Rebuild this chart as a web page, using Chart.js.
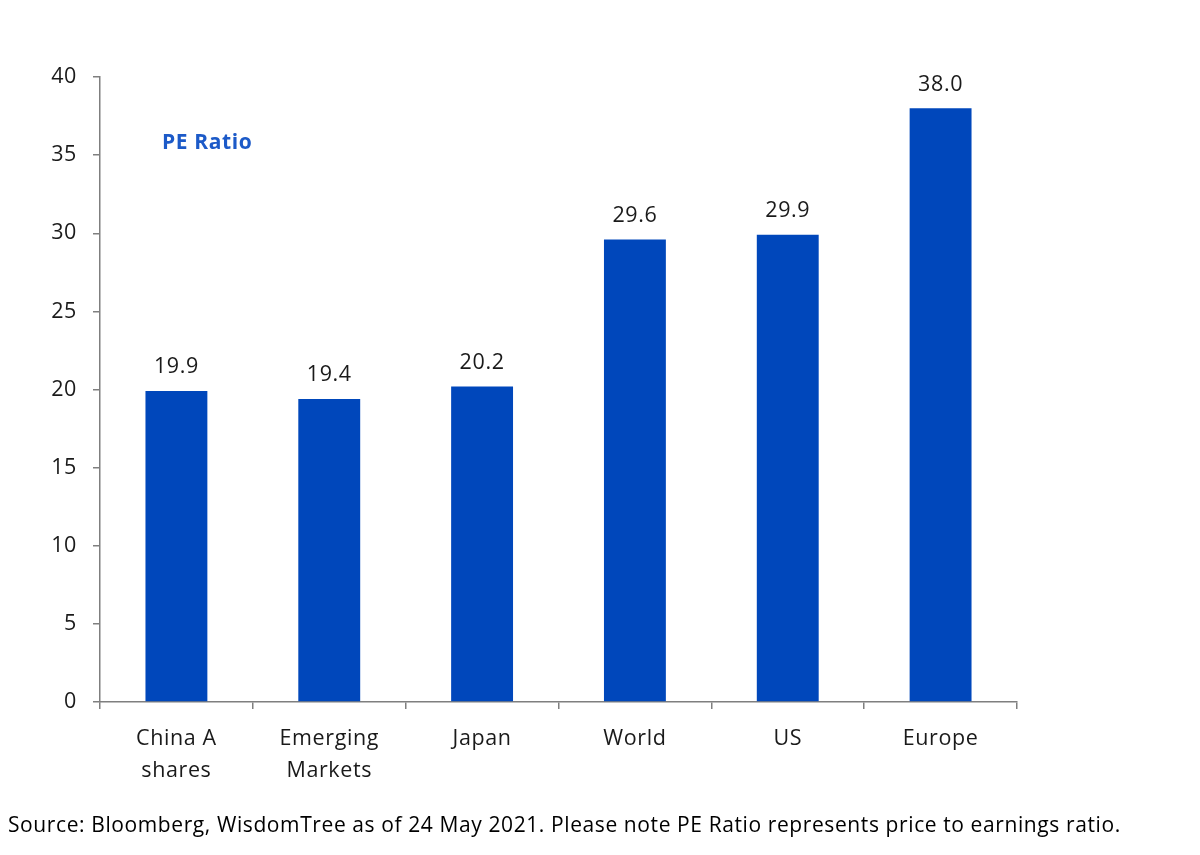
<!DOCTYPE html>
<html>
<head>
<meta charset="utf-8">
<script src="https://cdn.jsdelivr.net/npm/chart.js@4"></script>
<style>
    body { margin: 0; background: #fff; }
    #wrap { width: 1200px; height: 855px; }
</style>
</head>
<body>
<div id="wrap"><canvas id="peChart"></canvas></div>
<script>
// Data
const categories = [["China A", "shares"], ["Emerging", "Markets"], "Japan", "World", "US", "Europe"];
const peValues = [19.9, 19.4, 20.2, 29.6, 29.9, 38.0];
const yTicks = [0, 5, 10, 15, 20, 25, 30, 35, 40];

const barColor = "#0047BB";
const textColor = "#1a1a1a";
const axisColor = "#7f7f7f";
const fontFamily = "'Open Sans', sans-serif";

// Slightly wider lettering, closer to the original's font
const spacingPlugin = {
    id: "spacing",
    beforeDraw(chart) {
        chart.ctx.letterSpacing = "0.6px";
    }
};

// Draws value labels, the "PE Ratio" tag and the source note
const labelsPlugin = {
    id: "labels",
    afterDatasetsDraw(chart) {
        const ctx = chart.ctx;
        const meta = chart.getDatasetMeta(0);
        ctx.save();
        ctx.letterSpacing = "0.6px";
        ctx.font = "21.5px " + fontFamily;
        ctx.fillStyle = textColor;
        ctx.textAlign = "center";
        ctx.textBaseline = "bottom";
        meta.data.forEach((bar, i) => {
            ctx.fillText(peValues[i].toFixed(1), bar.x, bar.y - 13);
        });

        ctx.font = "bold 21px " + fontFamily;
        ctx.fillStyle = "#1C5AC8";
        ctx.textAlign = "left";
        ctx.textBaseline = "middle";
        ctx.fillText("PE Ratio", 162, 143);

        ctx.font = "21px " + fontFamily;
        ctx.fillStyle = "#000";
        ctx.fillText("Source: Bloomberg, WisdomTree as of 24 May 2021. Please note PE Ratio represents price to earnings ratio.", 8, 826);
        ctx.restore();
    }
};

const ctx = document.getElementById("peChart").getContext("2d");

new Chart(ctx, {
    type: "bar",
    data: {
        labels: categories,
        datasets: [{
            data: peValues,
            backgroundColor: barColor,
            barPercentage: 0.405,
            categoryPercentage: 1
        }]
    },
    options: {
        responsive: true,
        maintainAspectRatio: false,
        animation: false,
        layout: {
            padding: { top: 77, right: 183, left: 0, bottom: 0 }
        },
        plugins: {
            legend: { display: false },
            tooltip: { enabled: false }
        },
        scales: {
            x: {
                grid: {
                    offset: true,
                    drawOnChartArea: false,
                    drawTicks: true,
                    tickLength: 7,
                    color: axisColor,
                    lineWidth: 1.5
                },
                border: { color: axisColor, width: 1.5 },
                ticks: {
                    color: textColor,
                    font: { family: fontFamily, size: 21.5, lineHeight: 1.48 },
                    padding: 14,
                    maxRotation: 0
                },
                afterFit(scale) {
                    scale.height = 153;
                }
            },
            y: {
                min: 0,
                max: 40,
                afterBuildTicks(scale) {
                    scale.ticks = yTicks.map(v => ({ value: v }));
                },
                grid: {
                    drawOnChartArea: false,
                    drawTicks: true,
                    tickLength: 7,
                    color: axisColor,
                    lineWidth: 1.5
                },
                border: { color: axisColor, width: 1.5 },
                ticks: {
                    color: textColor,
                    font: { family: fontFamily, size: 21.5 },
                    padding: 16
                },
                afterFit(scale) {
                    scale.width = 100;
                }
            }
        }
    },
    plugins: [spacingPlugin, labelsPlugin]
});
</script>
</body>
</html>
